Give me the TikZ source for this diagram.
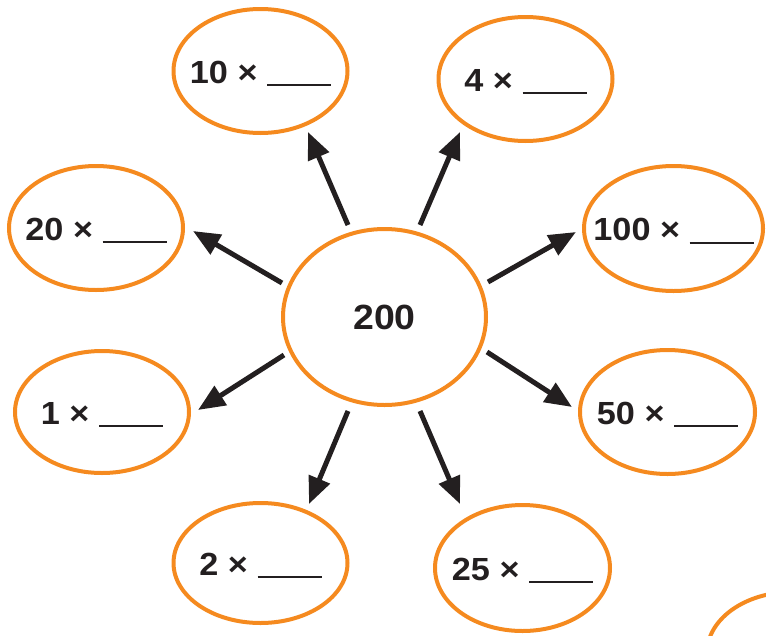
\documentclass[tikz,border=0pt]{standalone}
\usepackage{fontspec}
\setmainfont{Liberation Sans}
\newfontfamily\labfont[FakeStretch=1.07]{Liberation Sans}
\usetikzlibrary{arrows.meta,calc,shapes.geometric}
\definecolor{orng}{HTML}{F58A1F}
\definecolor{ink}{HTML}{231F20}
\newcommand{\blank}{\rule[-3pt]{64pt}{1.8pt}}
\newcommand{\lbltext}[1]{\makebox[0pt][c]{#1}}
\begin{document}
\begin{tikzpicture}[x=1pt,y=-1pt,
  bubble/.style={ellipse, draw=orng, line width=4pt, inner sep=0pt, text=ink,
    minimum width=174pt, minimum height=124pt},
  lbl/.style={font=\labfont\bfseries\fontsize{32}{36}\selectfont, text height=27pt, text depth=3pt},
  arr/.style={draw=ink, line width=5pt, -{Triangle[length=27pt,width=22pt]}}]
\useasboundingbox (0,0) rectangle (766,635);
% centre
\node[bubble, minimum width=203pt, minimum height=176pt,
  font=\labfont\bfseries\fontsize{35}{40}\selectfont] (c) at (384.5,317) {\lbltext{200}};
% outer bubbles
\node[bubble, lbl] (n10) at (260.5,71) {\lbltext{10 × \blank}};
\node[bubble, lbl] (n4) at (525.5,79) {\lbltext{4 × \blank}};
\node[bubble, lbl] (n20) at (96,228) {\lbltext{20 × \blank}};
\node[bubble, lbl, minimum width=179pt, minimum height=125pt] (n100) at (673.5,228.5) {\lbltext{100 × \blank}};
\node[bubble, lbl, minimum height=122pt] (n1) at (102,412) {\lbltext{1 × \blank}};
\node[bubble, lbl, minimum width=175pt] (n50) at (667.5,412) {\lbltext{50 × \blank}};
\node[bubble, lbl, minimum height=120pt] (n2) at (260.5,563) {\lbltext{2 × \blank}};
\node[bubble, lbl, minimum width=175pt, minimum height=126pt] (n25) at (522.5,568) {\lbltext{25 × \blank}};
\node[bubble, minimum width=170pt, minimum height=122pt] (n9) at (792,653) {};
% arrows
\draw[arr] ($(c)+(-36.5,-92)$) -- ($(n10)+(47.5,61)$);
\draw[arr] ($(c)+(35.5,-92)$) -- ($(n4)+(-65.5,53)$);
\draw[arr] ($(c)+(-102.5,-34)$) -- ($(n20)+(97,3)$);
\draw[arr] ($(c)+(-100.5,38)$) -- ($(n1)+(96,-2)$);
\draw[arr] ($(c)+(103.5,-35)$) -- ($(n100)+(-97.5,3.5)$);
\draw[arr] ($(c)+(102.5,35)$) -- ($(n50)+(-95.5,-5)$);
\draw[arr] ($(c)+(-36.5,94)$) -- ($(n2)+(48.5,-59)$);
\draw[arr] ($(c)+(35.5,94)$) -- ($(n25)+(-62.5,-64)$);
\end{tikzpicture}
\end{document}
